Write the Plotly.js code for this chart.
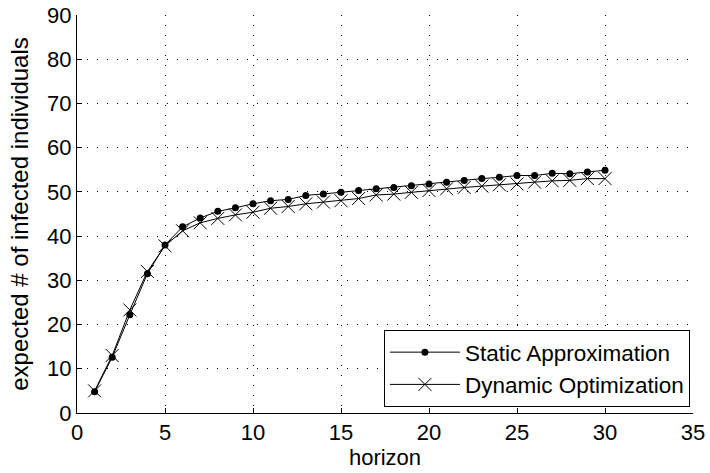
<!DOCTYPE html>
<html>
<head>
<meta charset="utf-8">
<script src="https://cdn.plot.ly/plotly-3.0.1.min.js"></script>
<style>html,body{margin:0;padding:0;background:#fff;}#chart{width:710px;height:473px;}</style>
</head>
<body>
<div id="chart"></div>
<script>
const horizon = [1,2,3,4,5,6,7,8,9,10,11,12,13,14,15,16,17,18,19,20,21,22,23,24,25,26,27,28,29,30];
const staticApprox = [4.8,12.6,22.2,31.5,38.0,42.1,44.1,45.6,46.4,47.3,48.0,48.3,49.2,49.5,49.9,50.3,50.7,51.0,51.4,51.8,52.2,52.6,53.0,53.3,53.7,53.7,54.2,54.1,54.5,54.9];
const dynamicOpt = [5.0,13.0,23.3,32.0,37.8,41.2,43.0,44.0,44.8,45.4,46.3,46.7,47.3,47.7,48.0,48.5,49.3,49.5,49.9,50.3,50.7,51.0,51.3,51.6,51.8,52.2,52.5,52.6,53.0,53.0];
const seriesNames = ["Static Approximation","Dynamic Optimization"];
const xTicks = [0,5,10,15,20,25,30,35];
const yTicks = [0,10,20,30,40,50,60,70,80,90];

const font = {family: "Liberation Sans, Arial, sans-serif", color: "#000"};
const traces = [
  {x: horizon, y: staticApprox, name: seriesNames[0], mode: "lines+markers",
   line: {color: "#000", width: 1}, marker: {symbol: "circle", size: 7, color: "#000"}},
  {x: horizon, y: dynamicOpt, name: seriesNames[1], mode: "lines+markers",
   line: {color: "#000", width: 1}, marker: {symbol: "x-thin-open", size: 13, color: "#000", line: {color: "#000", width: 1}}}
];
const axisCommon = {
  showline: true, linecolor: "#000", linewidth: 1, mirror: false,
  ticks: "inside", ticklen: 5, tickcolor: "#000",
  showgrid: true, gridcolor: "#000", gridwidth: 1, griddash: "1px,9px",
  zeroline: false, tickfont: Object.assign({size: 22}, font)
};
const layout = {
  width: 710, height: 473,
  margin: {l: 77, r: 17, t: 15, b: 60},
  paper_bgcolor: "#fff", plot_bgcolor: "#fff",
  font: font,
  showlegend: true,
  xaxis: Object.assign({}, axisCommon, {range: [0, 35], tickvals: xTicks, ticktext: xTicks.map(String),
    title: {text: "horizon", font: Object.assign({size: 22}, font), standoff: 0}}),
  yaxis: Object.assign({}, axisCommon, {range: [0, 90], tickvals: yTicks, ticktext: yTicks.map(String),
    title: {text: "expected # of infected individuals", font: Object.assign({size: 24}, font), standoff: 11}}),
  legend: {x: 0.995, y: 0.015, xanchor: "right", yanchor: "bottom",
    bgcolor: "#fff", bordercolor: "#000", borderwidth: 1,
    font: Object.assign({size: 22.5}, font), itemwidth: 70, tracegroupgap: 0}
};
Plotly.newPlot("chart", traces, layout, {displayModeBar: false, staticPlot: true});
</script>
</body>
</html>
